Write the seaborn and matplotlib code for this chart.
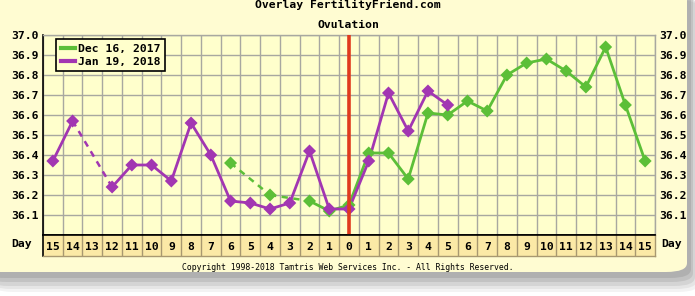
import numpy as np
import pandas as pd
import matplotlib
matplotlib.use("Agg")
import matplotlib.pyplot as plt
from matplotlib.patches import FancyBboxPatch
from matplotlib.lines import Line2D
import seaborn as sns

# ---- data ----
days = list(range(-15, 16))
day_labels = [str(abs(d)) for d in days]
series_names = ["Dec 16, 2017", "Jan 19, 2018"]
green_days = [-6, -4, -2, -1, 0, 1, 2, 3, 4, 5, 6, 7, 8, 9, 10, 11, 12, 13, 14, 15]
green_temps = [36.36, 36.20, 36.17, 36.12, 36.15, 36.41, 36.41, 36.28, 36.61, 36.60,
               36.67, 36.62, 36.80, 36.86, 36.88, 36.82, 36.74, 36.94, 36.65, 36.37]
purple_days = [-15, -14, -12, -11, -10, -9, -8, -7, -6, -5, -4, -3, -2, -1, 0, 1, 2, 3, 4, 5]
purple_temps = [36.37, 36.57, 36.24, 36.35, 36.35, 36.27, 36.56, 36.40, 36.17, 36.16,
                36.13, 36.16, 36.42, 36.13, 36.13, 36.37, 36.71, 36.52, 36.72, 36.65]
y_ticks = [36.1, 36.2, 36.3, 36.4, 36.5, 36.6, 36.7, 36.8, 36.9, 37.0]

GREEN = "#5cbf38"
PURPLE = "#a236b2"
BG = "#ffffcc"
CARD = "#fffcd2"
DAYBG = "#fbe9a6"
GRID = "#a8a8a0"
MONO = "DejaVu Sans Mono"

def build(days_, temps_, name):
    rows = []
    seg = 0
    for i, (d, t) in enumerate(zip(days_, temps_)):
        if i > 0 and d - days_[i - 1] > 1:
            seg += 1
        rows.append({"day": d, "temp": t, "series": name, "seg": f"{name}-{seg}"})
    return pd.DataFrame(rows)

df = pd.concat([build(green_days, green_temps, series_names[0]),
                build(purple_days, purple_temps, series_names[1])], ignore_index=True)
palette = {series_names[0]: GREEN, series_names[1]: PURPLE}

W, H = 695, 296
fig = plt.figure(figsize=(W / 100, H / 100), dpi=100)
fig.patch.set_facecolor("white")

# card shadow + card
for k, (dx, dy, a) in enumerate([(12, 20, 0.07), (10, 17, 0.09), (8, 14, 0.12), (6, 10, 0.15), (4, 6, 0.18)]):
    fig.patches.append(FancyBboxPatch(((-20 + dx) / W, (H - 272 - dy) / H), (707) / W, (292) / H,
                                      boxstyle="round,pad=0,rounding_size=0.03",
                                      transform=fig.transFigure, facecolor="#606060",
                                      edgecolor="none", alpha=a, zorder=-10))
fig.patches.append(FancyBboxPatch((-20 / W, (H - 272) / H), 707 / W, 292 / H,
                                  boxstyle="round,pad=0,rounding_size=0.03",
                                  transform=fig.transFigure, facecolor=CARD,
                                  edgecolor="none", zorder=-5))

L, R_, TOP, BOT = 43, 655, 35, 235
ax = fig.add_axes([L / W, (H - BOT) / H, (R_ - L) / W, (BOT - TOP) / H])
ax.set_facecolor(BG)
ax.set_xlim(-15.5, 15.5)
ax.set_ylim(36.0, 37.0)
for b in np.arange(-15.5, 16.0, 1.0):
    ax.axvline(b, color=GRID, lw=1, zorder=1)
for y in y_ticks:
    ax.axhline(y, color=GRID, lw=1, zorder=1)

# dashed gap connectors
for days_, temps_, c in [(green_days, green_temps, GREEN), (purple_days, purple_temps, PURPLE)]:
    for i in range(1, len(days_)):
        if days_[i] - days_[i - 1] > 1:
            ax.plot([days_[i - 1], days_[i]], [temps_[i - 1], temps_[i]], color=c, lw=1.8,
                    ls=(0, (2.5, 2.2)), zorder=3)

sns.lineplot(data=df, x="day", y="temp", hue="series", units="seg", estimator=None,
             palette=palette, lw=2.0, ax=ax, legend=False, zorder=4)
sns.scatterplot(data=df, x="day", y="temp", hue="series", palette=palette, marker="D",
                s=44, edgecolor="none", ax=ax, legend=False, zorder=5)
ax.axvline(0, color="#e03a1e", lw=2.6, zorder=6)

ax.set_xlabel("")
ax.set_ylabel("")
ax.set_xticks([])
ax.set_yticks(y_ticks)
ax.set_yticklabels([f"{v:.1f}" for v in y_ticks], fontfamily=MONO, fontweight="bold", fontsize=8.2)
ax.tick_params(axis="y", length=0, pad=3, labelright=True, right=False)
for t in ax.yaxis.get_major_ticks():
    for lab in (t.label1, t.label2):
        lab.set_fontfamily(MONO); lab.set_fontweight("bold"); lab.set_fontsize(8.2)
for s in ["top", "right"]:
    ax.spines[s].set_color(GRID)
    ax.spines[s].set_linewidth(1)
for s in ["left", "bottom"]:
    ax.spines[s].set_color("black")
    ax.spines[s].set_linewidth(1.2)

handles = [Line2D([0], [0], color=GREEN, lw=3), Line2D([0], [0], color=PURPLE, lw=3)]
leg = ax.legend(handles, series_names, loc="upper left", bbox_to_anchor=(0.018, 0.99),
                prop={"family": MONO, "weight": "bold", "size": 8.2}, handlelength=1.2,
                handletextpad=0.3, borderpad=0.4, labelspacing=0.25, fancybox=False,
                framealpha=1, borderaxespad=0.2)
leg.get_frame().set_edgecolor("black")
leg.get_frame().set_facecolor(BG)
leg.get_frame().set_linewidth(1.2)
leg.set_zorder(10)

# day row
ax2 = fig.add_axes([L / W, (H - 256) / H, (R_ - L) / W, 21 / H])
ax2.set_xlim(-15.5, 15.5)
ax2.set_ylim(0, 1)
ax2.set_facecolor(DAYBG)
for b in np.arange(-14.5, 15.0, 1.0):
    ax2.axvline(b, color="#a89870", lw=1)
for d, lab in zip(days, day_labels):
    ax2.text(d, 0.45, lab, ha="center", va="center", fontfamily=MONO, fontweight="bold", fontsize=8.2)
ax2.set_xticks([]); ax2.set_yticks([])
for s in ["left", "top"]:
    ax2.spines[s].set_color("black"); ax2.spines[s].set_linewidth(1.2)
for s in ["right", "bottom"]:
    ax2.spines[s].set_color("#a89870"); ax2.spines[s].set_linewidth(1)

fig.text(22 / W, 1 - 244 / H, "Day", ha="center", va="center", fontfamily=MONO, fontweight="bold", fontsize=8.2)
fig.text(672 / W, 1 - 244 / H, "Day", ha="center", va="center", fontfamily=MONO, fontweight="bold", fontsize=8.2)
fig.text(348 / W, 1 - 5 / H, "Overlay FertilityFriend.com", ha="center", va="center",
         fontfamily=MONO, fontweight="bold", fontsize=8.2)
fig.text(348 / W, 1 - 25 / H, "Ovulation", ha="center", va="center",
         fontfamily=MONO, fontweight="bold", fontsize=8.2)
fig.text(348 / W, 1 - 268 / H, "Copyright 1998-2018 Tamtris Web Services Inc. - All Rights Reserved.",
         ha="center", va="center", fontfamily=MONO, fontsize=5.9)

fig.savefig("out.png", dpi=100, facecolor="white")
